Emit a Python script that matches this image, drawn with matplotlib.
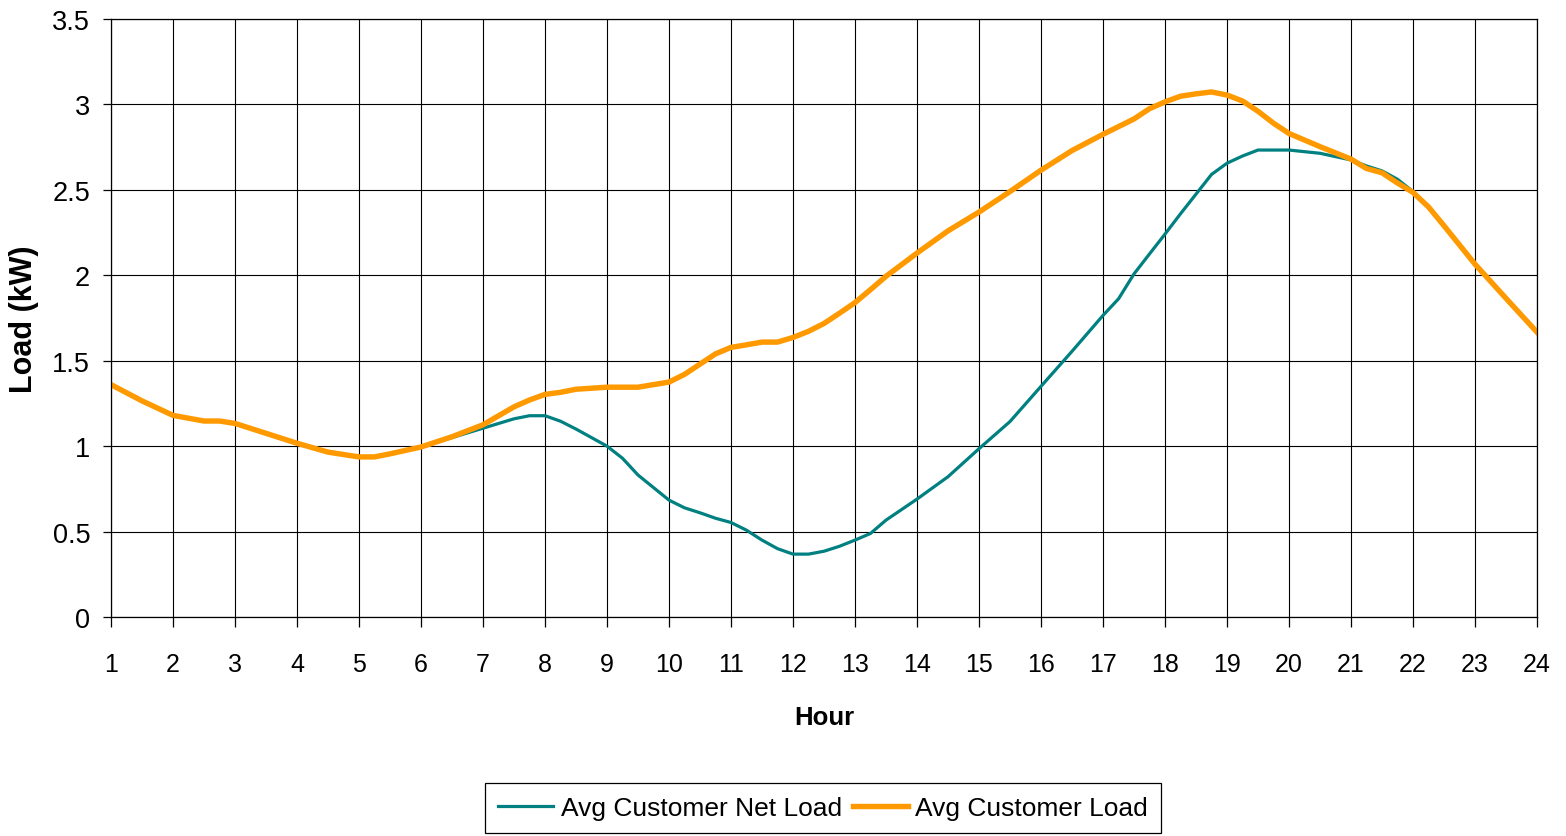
import matplotlib
matplotlib.use('Agg')
import matplotlib.pyplot as plt

plt.rcParams['font.family'] = ['Liberation Sans', 'DejaVu Sans']

# hour of day (x) - shared by both series
hours = [1, 1.5, 2, 2.5, 2.75, 3, 3.5, 4, 4.5, 5,
         5.25, 5.5, 6, 6.5, 7, 7.5, 7.75, 8, 8.25, 8.5,
         9, 9.25, 9.5, 10, 10.25, 10.5, 10.75, 11, 11.25, 11.5,
         11.75, 12, 12.25, 12.5, 12.75, 13, 13.25, 13.5, 14, 14.5,
         15, 15.5, 16, 16.5, 17, 17.25, 17.5, 17.75, 18, 18.25,
         18.5, 18.75, 19, 19.25, 19.5, 19.75, 20, 20.5, 21, 21.25,
         21.5, 21.75, 22, 22.25, 22.5, 23, 23.5, 24]

avg_load = [1.36, 1.265, 1.18, 1.147, 1.147, 1.133, 1.075, 1.017, 0.965, 0.937,
            0.937, 0.955, 0.995, 1.055, 1.125, 1.23, 1.27, 1.303, 1.315, 1.333,
            1.345, 1.345, 1.345, 1.375, 1.42, 1.48, 1.54, 1.578, 1.593, 1.609,
            1.609, 1.636, 1.672, 1.718, 1.778, 1.84, 1.916, 1.994, 2.13, 2.26,
            2.37, 2.49, 2.615, 2.73, 2.825, 2.87, 2.915, 2.975, 3.015, 3.048,
            3.062, 3.073, 3.055, 3.02, 2.96, 2.89, 2.83, 2.753, 2.68, 2.625,
            2.6, 2.54, 2.485, 2.4, 2.29, 2.065, 1.865, 1.667]

avg_net_load = [1.36, 1.265, 1.18, 1.147, 1.147, 1.133, 1.075, 1.017, 0.965, 0.937,
                0.937, 0.955, 0.995, 1.05, 1.105, 1.16, 1.178, 1.178, 1.146, 1.10,
                1.0, 0.929, 0.831, 0.684, 0.639, 0.61, 0.578, 0.553, 0.508, 0.45,
                0.40, 0.368, 0.368, 0.385, 0.414, 0.45, 0.489, 0.567, 0.69, 0.821,
                0.985, 1.144, 1.35, 1.555, 1.765, 1.862, 2.008, 2.125, 2.241, 2.36,
                2.475, 2.59, 2.656, 2.698, 2.733, 2.733, 2.733, 2.714, 2.675, 2.64,
                2.611, 2.562, 2.49, 2.4, 2.29, 2.065, 1.865, 1.667]

hour_ticks = list(range(1, 25))
load_ticks = [0, 0.5, 1, 1.5, 2, 2.5, 3, 3.5]
load_ticklabels = ['0', '0.5', '1', '1.5', '2', '2.5', '3', '3.5']

W, H = 1566, 837
fig = plt.figure(figsize=(W / 100, H / 100), dpi=100)
ax = fig.add_axes([111 / W, 1 - 618 / H, (1537 - 111) / W, (618 - 20) / H])

ln_net, = ax.plot(hours, avg_net_load, color='#008080', lw=2.3, solid_joinstyle='miter')
ln_load, = ax.plot(hours, avg_load, color='#FF9900', lw=3.9, solid_joinstyle='miter')

ax.set_xlim(1, 24)
ax.set_ylim(0, 3.5)
ax.set_xticks(hour_ticks)
ax.set_yticks(load_ticks)
ax.set_yticklabels(load_ticklabels)
ax.grid(True, color='black', lw=0.8)
ax.set_axisbelow(True)
for s in ax.spines.values():
    s.set_color('black')
    s.set_linewidth(0.9)
ax.tick_params(axis='y', direction='out', length=6, width=0.9, pad=9, labelsize=19.5)
ax.tick_params(axis='x', direction='out', length=7, width=0.9, pad=18, labelsize=18)

# axis titles
fig.text(824 / W, 1 - 718 / H, 'Hour', ha='center', va='center', fontsize=18.5, fontweight='bold')
fig.text(24 / W, 1 - 319 / H, 'Load (kW)', ha='center', va='center', rotation=90,
         fontsize=22, fontweight='bold')

leg = fig.legend([ln_net, ln_load], ['Avg Customer Net Load', 'Avg Customer Load'],
                 ncol=2, loc='upper center', bbox_to_anchor=(823 / W, 1 - 784 / H),
                 fontsize=19, frameon=True, fancybox=False, edgecolor='black',
                 framealpha=1, borderpad=0.5, handlelength=2.1, handletextpad=0.27,
                 columnspacing=0.42, borderaxespad=0)
leg.get_frame().set_linewidth(0.9)

fig.savefig('out.png', dpi=100)
